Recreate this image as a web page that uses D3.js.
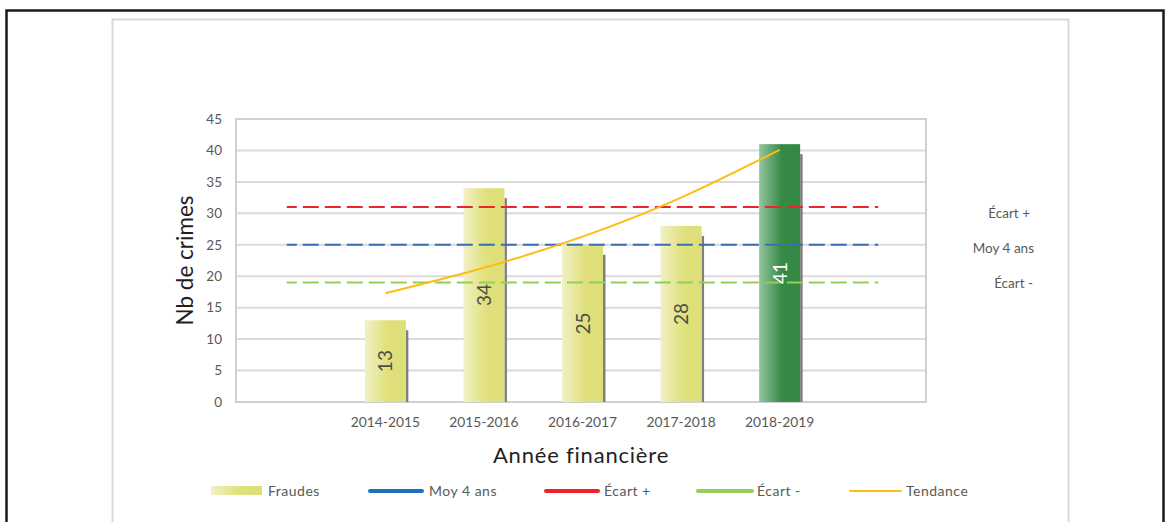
<!DOCTYPE html>
<html>
<head>
<meta charset="utf-8">
<script src="https://cdn.jsdelivr.net/npm/d3@7"></script>
<style>
  body { margin: 0; background: #fff; }
  svg { display: block; font-family: Lato, "Open Sans", sans-serif; }
</style>
</head>
<body>
<svg id="chart" width="1166" height="522"></svg>
<script>
// ---- data ----
const categories = ["2014-2015", "2015-2016", "2016-2017", "2017-2018", "2018-2019"];
const fraudes = [13, 34, 25, 28, 41];
const tendance = [17.3, 21.35, 26.3, 32.5, 40.1];
const moy4ans = 25;
const ecartPlus = 31;
const ecartMoins = 19;
const yTicks = [0, 5, 10, 15, 20, 25, 30, 35, 40, 45];
const legendLabels = ["Fraudes", "Moy 4 ans", "Écart +", "Écart -", "Tendance"];

const svg = d3.select("#chart");
const defs = svg.append("defs");

function hGrad(id, stops) {
  const g = defs.append("linearGradient").attr("id", id)
    .attr("x1", "0%").attr("x2", "100%").attr("y1", "0%").attr("y2", "0%");
  stops.forEach(s => g.append("stop").attr("offset", s[0]).attr("stop-color", s[1]));
}
hGrad("gYellow", [["0%", "#f1f1c6"], ["55%", "#e0e07c"], ["100%", "#dfdf78"]]);
hGrad("gGreen", [["0%", "#93c59e"], ["55%", "#368a46"], ["100%", "#348843"]]);

// frames
svg.append("rect").attr("x", 6.5).attr("y", 10.5).attr("width", 1157).attr("height", 600)
  .attr("fill", "none").attr("stroke", "#1a1a1a").attr("stroke-width", 2.5);
svg.append("rect").attr("x", 112.5).attr("y", 19.5).attr("width", 956).attr("height", 600)
  .attr("fill", "none").attr("stroke", "#d9d9d9").attr("stroke-width", 2);

// scales
const slots = ["pre", ...categories, "post"];
const x = d3.scaleBand().domain(slots).range([237.5, 927.5]).padding(0);
const y = d3.scaleLinear().domain([0, 45]).range([402, 119]);

// gridlines
svg.append("g").selectAll("line").data(yTicks).join("line")
  .attr("x1", 236).attr("x2", 926)
  .attr("y1", d => y(d)).attr("y2", d => y(d))
  .attr("stroke", "#dadada").attr("stroke-width", 2);

// plot border
svg.append("rect").attr("x", 236).attr("y", y(45)).attr("width", 690).attr("height", y(0) - y(45))
  .attr("fill", "none").attr("stroke", "#d0d0d0").attr("stroke-width", 2);

// y axis
const yAxis = svg.append("g").attr("transform", "translate(236,0)")
  .call(d3.axisLeft(y).tickValues(yTicks).tickSize(0).tickPadding(14));
yAxis.select(".domain").remove();
yAxis.selectAll("text").attr("font-size", 13.5).attr("fill", "#595959").attr("font-family", "Lato, sans-serif");

// x axis
const xAxis = svg.append("g").attr("transform", `translate(0,${y(0)})`)
  .call(d3.axisBottom(x).tickSize(0).tickPadding(15).tickFormat(d => categories.includes(d) ? d : ""));
xAxis.select(".domain").remove();
xAxis.selectAll("text").attr("font-size", 13.8).attr("fill", "#595959").attr("font-family", "Lato, sans-serif");

// bars
const bw = 41;
const barData = categories.map((c, i) => ({ c, v: fraudes[i], last: i === categories.length - 1 }));
const cx = d => x(d.c) + x.bandwidth() / 2;
svg.append("g").selectAll("rect").data(barData).join("rect")
  .attr("x", d => cx(d) + bw / 2)
  .attr("y", d => y(d.v) + 10)
  .attr("width", 2.5)
  .attr("height", d => y(0) - y(d.v) - 10)
  .attr("fill", "#7f7f7f");
svg.append("g").selectAll("rect").data(barData).join("rect")
  .attr("x", d => cx(d) - bw / 2)
  .attr("y", d => y(d.v))
  .attr("width", bw)
  .attr("height", d => y(0) - y(d.v))
  .attr("fill", d => d.last ? "url(#gGreen)" : "url(#gYellow)");

// reference dashed lines
const xStart = x("pre") + x.bandwidth() / 2;
const xEnd = x("post") + x.bandwidth() / 2;
const refs = [
  { v: ecartPlus, color: "#e8262c" },
  { v: moy4ans, color: "#3a6db3" },
  { v: ecartMoins, color: "#92cf56" }
];
svg.append("g").selectAll("line").data(refs).join("line")
  .attr("x1", xStart).attr("x2", xEnd)
  .attr("y1", d => y(d.v)).attr("y2", d => y(d.v))
  .attr("stroke", d => d.color).attr("stroke-width", 2)
  .attr("stroke-dasharray", "16,6").attr("stroke-dashoffset", 6);

// bar value labels
svg.append("g").selectAll("text").data(barData).join("text")
  .attr("transform", d => `translate(${cx(d) + 7},${(y(d.v) + y(0)) / 2}) rotate(-90)`)
  .attr("text-anchor", "middle")
  .attr("font-size", 19)
  .attr("fill", d => d.last ? "#ffffff" : "#4d4d4d")
  .text(d => d.v);

// trend line
const line = d3.line().x((d, i) => x(categories[i]) + x.bandwidth() / 2).y(d => y(d)).curve(d3.curveNatural);
svg.append("path").datum(tendance).attr("d", line)
  .attr("fill", "none").attr("stroke", "#fdbd14").attr("stroke-width", 2);

// right-side labels
const rightLabels = [
  { t: "Écart +", v: ecartPlus, dx: 1030, off: 6 },
  { t: "Moy 4 ans", v: moy4ans, dx: 1034, off: 3 },
  { t: "Écart -", v: ecartMoins, dx: 1033, off: 1 }
];
svg.append("g").selectAll("text").data(rightLabels).join("text")
  .attr("x", d => d.dx).attr("y", d => y(d.v) + d.off)
  .attr("dy", "0.35em").attr("text-anchor", "end")
  .attr("font-size", 13.5).attr("fill", "#595959").text(d => d.t);

// axis titles
svg.append("text").attr("transform", `translate(193,${(y(0) + y(45)) / 2}) rotate(-90)`)
  .attr("text-anchor", "middle").attr("font-size", 22.5).attr("fill", "#1f1f1f").text("Nb de crimes");
svg.append("text").attr("x", 581).attr("y", 463).attr("text-anchor", "middle")
  .attr("font-size", 22).attr("letter-spacing", 0.8).attr("fill", "#1f1f1f").text("Année financière");

// legend
const legendY = 491;
const lg = svg.append("g");
const legendItems = [
  { type: "bar", x0: 211, x1: 262, tx: 268, fill: "url(#gYellow)" },
  { type: "line", x0: 370, x1: 422, tx: 429, color: "#2370b8", w: 4 },
  { type: "line", x0: 546, x1: 598, tx: 604, color: "#ee2229", w: 4 },
  { type: "line", x0: 698, x1: 752, tx: 757, color: "#92cf56", w: 4 },
  { type: "line", x0: 850, x1: 901, tx: 906, color: "#fdbd14", w: 2 }
];
legendItems.forEach((d, i) => {
  if (d.type === "bar") {
    lg.append("rect").attr("x", d.x0).attr("y", legendY - 5).attr("width", d.x1 - d.x0).attr("height", 9)
      .attr("fill", d.fill);
  } else {
    lg.append("line").attr("x1", d.x0).attr("x2", d.x1).attr("y1", legendY).attr("y2", legendY)
      .attr("stroke", d.color).attr("stroke-width", d.w).attr("stroke-linecap", "round");
  }
  lg.append("text").attr("x", d.tx).attr("y", legendY).attr("dy", "0.35em")
    .attr("font-size", 14).attr("letter-spacing", 0.5).attr("fill", "#595959").text(legendLabels[i]);
});
</script>
</body>
</html>
